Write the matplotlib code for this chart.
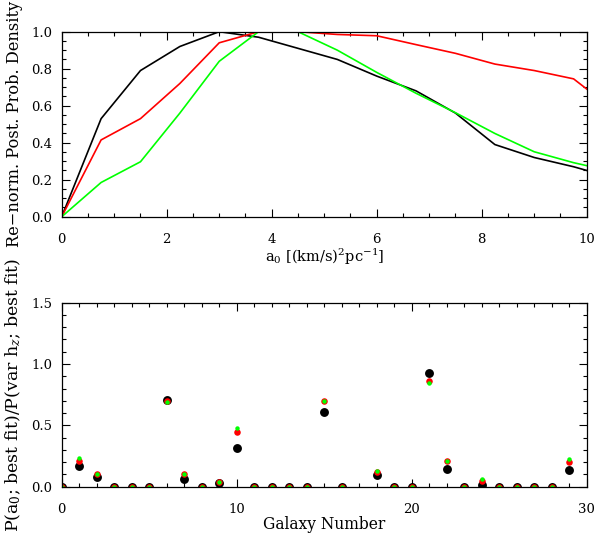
import numpy as np
import matplotlib
matplotlib.use("Agg")
import matplotlib.pyplot as plt
from matplotlib.ticker import MultipleLocator

plt.rcParams['font.family'] = ['DejaVu Serif']
plt.rcParams['mathtext.fontset'] = 'dejavuserif'

# top panel: posterior density vs a0
a0 = [0.0, 0.75, 1.5, 2.25, 3.0, 3.75, 4.5, 5.25, 6.0, 6.75, 7.5, 8.25, 9.0, 9.75, 10.0]
dens_black = [0.0, 0.53, 0.79, 0.92, 1.0, 0.97, 0.91, 0.85, 0.76, 0.68, 0.56, 0.39, 0.32, 0.27, 0.25]
dens_red = [0.0, 0.415, 0.53, 0.72, 0.94, 1.0, 1.0, 0.985, 0.978, 0.93, 0.883, 0.825, 0.79, 0.745, 0.69]
dens_green = [0.0, 0.185, 0.297, 0.56, 0.84, 1.0, 1.0, 0.90, 0.78, 0.667, 0.562, 0.45, 0.351, 0.292, 0.276]

# bottom panel: probability ratio per galaxy (galaxy 17 has no point)
galaxy = [0, 1, 2, 3, 4, 5, 6, 7, 8, 9, 10, 11, 12, 13, 14, 15, 16,
          18, 19, 20, 21, 22, 23, 24, 25, 26, 27, 28, 29]
ratio_black = [0, 0.171, 0.08, 0, 0, 0, 0.707, 0.062, 0, 0.027, 0.318, 0, 0, 0, 0, 0.611, 0,
               0.095, 0, 0, 0.929, 0.144, 0, 0.014, 0, 0, 0, 0, 0.136]
ratio_red = [0, 0.212, 0.10, 0, 0, 0, 0.698, 0.103, 0, 0.04, 0.448, 0, 0, 0, 0, 0.698, 0,
             0.117, 0, 0, 0.861, 0.209, 0, 0.049, 0, 0, 0, 0, 0.198]
ratio_green = [0, 0.236, 0.105, 0, 0, 0, 0.693, 0.103, 0, 0.04, 0.481, 0, 0, 0, 0, 0.698, 0,
               0.128, 0, 0, 0.842, 0.209, 0, 0.0625, 0, 0, 0, 0, 0.226]

fig = plt.figure(figsize=(5.97, 5.38), dpi=100)

def style(ax):
    ax.tick_params(which='both', direction='in', top=True, right=True, labelsize=9.5)
    ax.tick_params(axis='x', pad=12)
    ax.tick_params(axis='y', pad=7)
    ax.tick_params(which='major', length=5.5, width=0.8)
    ax.tick_params(which='minor', length=3, width=0.8)
    for s in ax.spines.values():
        s.set_linewidth(0.9)

ax1 = fig.add_axes([0.1034, 0.5972, 0.8794, 0.3439])
ax1.plot(a0, dens_black, color='black', lw=1.2)
ax1.plot(a0, dens_red, color='#ff0000', lw=1.2)
ax1.plot(a0, dens_green, color='#00ff00', lw=1.2)
ax1.set_xlim(0, 10)
ax1.set_ylim(0, 1.0)
ax1.xaxis.set_major_locator(MultipleLocator(2))
ax1.xaxis.set_minor_locator(MultipleLocator(0.5))
ax1.yaxis.set_major_locator(MultipleLocator(0.2))
ax1.yaxis.set_minor_locator(MultipleLocator(0.05))
ax1.yaxis.set_major_formatter(matplotlib.ticker.FormatStrFormatter('%.1f'))
style(ax1)
ax1.set_xlabel(r'a$_0$ [(km/s)$^2$pc$^{-1}$]', fontsize=10.5, labelpad=0)
ax1.set_ylabel('Re\u2212norm. Post. Prob. Density', fontsize=11.7, labelpad=6)

ax2 = fig.add_axes([0.1034, 0.0954, 0.8794, 0.342])
ax2.plot(galaxy, ratio_black, 'o', color='black', ms=6.4, mew=0)
ax2.plot(galaxy, ratio_red, 'o', color='#ff0000', ms=4.7, mew=0)
ax2.plot(galaxy, ratio_green, 'o', color='#00ff00', ms=3.2, mew=0)
ax2.set_xlim(0, 30)
ax2.set_ylim(0, 1.5)
ax2.xaxis.set_major_locator(MultipleLocator(10))
ax2.xaxis.set_minor_locator(MultipleLocator(1))
ax2.yaxis.set_major_locator(MultipleLocator(0.5))
ax2.yaxis.set_minor_locator(MultipleLocator(0.1))
ax2.yaxis.set_major_formatter(matplotlib.ticker.FormatStrFormatter('%.1f'))
style(ax2)
ax2.set_xlabel('Galaxy Number', fontsize=11.2, labelpad=0)
ax2.set_ylabel(r'P(a$_0$; best fit)/P(var h$_z$; best fit)', fontsize=12.5, labelpad=6)

fig.savefig('out.png', dpi=100)
